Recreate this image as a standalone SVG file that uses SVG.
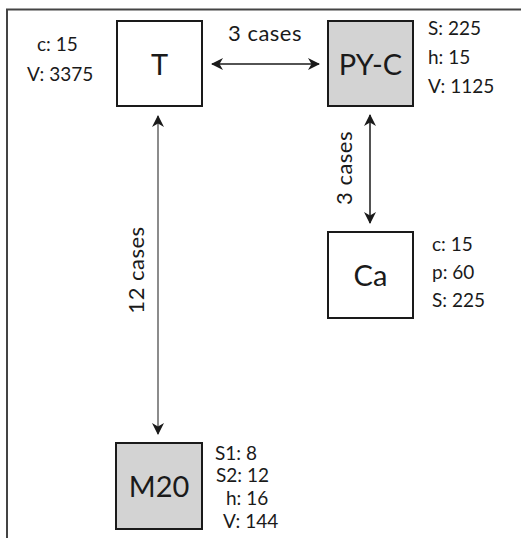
<svg xmlns="http://www.w3.org/2000/svg" width="521" height="538" viewBox="0 0 521 538">
<defs>
<marker id="ah" viewBox="0 0 12 12" refX="11" refY="6" markerWidth="12" markerHeight="12" markerUnits="userSpaceOnUse" orient="auto-start-reverse">
<path d="M0,0 L12,6 L0,12 L3.5,6 Z" fill="#1a1a1a"/>
</marker>
<style>
.box{stroke:#1a1a1a;stroke-width:2}
.w{fill:#ffffff}
.g{fill:#d3d3d3}
.lbl{font-family:Lato,"Open Sans","Liberation Sans",sans-serif;font-size:29px;fill:#1a1a1a;text-anchor:middle}
.att{font-family:Lato,"Open Sans","Liberation Sans",sans-serif;font-size:19px;fill:#1a1a1a}
.cl{font-family:Lato,"Open Sans","Liberation Sans",sans-serif;font-size:22px;fill:#1a1a1a;text-anchor:middle;letter-spacing:0.5px}
.con{stroke:#1a1a1a;stroke-width:1.5;fill:none}
</style>
</defs>
<rect width="521" height="538" fill="#ffffff"/>
<path d="M7,538 L7,9.5 L521,9.5" fill="none" stroke="#444" stroke-width="2"/>
<g id="connectors">
<line class="con" x1="212" y1="64" x2="319" y2="64" marker-start="url(#ah)" marker-end="url(#ah)"/>
<text class="cl" x="265" y="41">3 cases</text>
<line class="con" x1="370" y1="115" x2="370" y2="223" marker-start="url(#ah)" marker-end="url(#ah)"/>
<text class="cl" transform="translate(352,168) rotate(-90)">3 cases</text>
<line class="con" x1="158" y1="116" x2="158" y2="434" marker-start="url(#ah)" marker-end="url(#ah)" style="stroke:#666"/>
<text class="cl" transform="translate(144,270) rotate(-90)">12  cases</text>
</g>
<g id="T">
<rect class="box w" x="117" y="21" width="85" height="85"/>
<text class="lbl" x="159.5" y="75">T</text>
<text class="att" x="37" y="51">c: 15</text>
<text class="att" x="27" y="81">V: 3375</text>
</g>
<g id="PY-C">
<rect class="box g" x="328" y="21" width="85" height="85"/>
<text class="lbl" x="370.5" y="75">PY-C</text>
<text class="att" x="428" y="35">S: 225</text>
<text class="att" x="428" y="64">h: 15</text>
<text class="att" x="428" y="93">V: 1125</text>
</g>
<g id="Ca">
<rect class="box w" x="328" y="232" width="85" height="86"/>
<text class="lbl" x="370.5" y="286">Ca</text>
<text class="att" x="432" y="251">c: 15</text>
<text class="att" x="432" y="279">p: 60</text>
<text class="att" x="432" y="307">S: 225</text>
</g>
<g id="M20">
<rect class="box g" x="116" y="443" width="86" height="86"/>
<text class="lbl" x="159" y="497">M20</text>
<text class="att" x="215" y="460">S1: 8</text>
<text class="att" x="216" y="482">S2: 12</text>
<text class="att" x="226" y="505">h: 16</text>
<text class="att" x="223" y="528">V: 144</text>
</g>
</svg>
